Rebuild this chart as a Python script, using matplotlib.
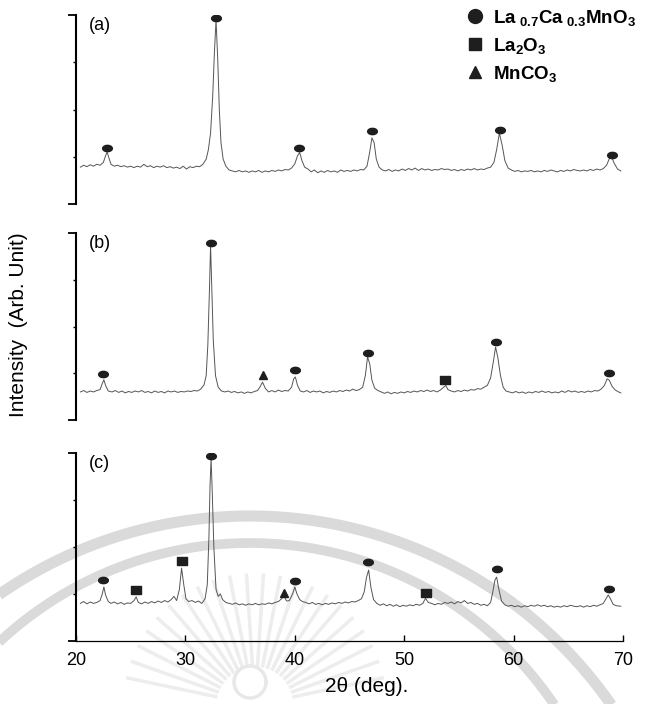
import numpy as np
import matplotlib
matplotlib.use("Agg")
import matplotlib.pyplot as plt
from matplotlib.path import Path
from matplotlib.lines import Line2D

plt.rcParams['font.family'] = ['Liberation Sans', 'DejaVu Sans']
plt.rcParams['mathtext.default'] = 'regular'

# XRD traces: (2theta, intensity in arbitrary units)
trace_a = [
    (20.4, .78), (20.7, .82), (21.0, .79), (21.3, .83), (21.6, .80), (21.9, .84), (22.2, .82), (22.5, .88), (22.7, 1.02), (22.85, 1.10),
    (23.0, .98), (23.2, .84), (23.5, .80), (23.8, .82), (24.1, .79), (24.4, .81), (24.7, .78), (25.0, .80), (25.3, .77), (25.6, .80),
    (25.9, .78), (26.2, .84), (26.5, .79), (26.8, .81), (27.1, .77), (27.4, .80), (27.7, .78), (28.0, .81), (28.3, .77), (28.6, .79),
    (28.9, .76), (29.2, .78), (29.5, .75), (29.8, .80), (30.1, .74), (30.4, .79), (30.7, .77), (31.0, .80), (31.3, .79), (31.6, .84),
    (31.9, .95), (32.1, 1.15), (32.3, 1.50), (32.5, 2.30), (32.65, 3.20), (32.8, 3.89), (32.95, 3.10), (33.1, 2.00), (33.25, 1.30), (33.45, .95),
    (33.7, .80), (34.0, .72), (34.3, .70), (34.6, .68), (34.9, .71), (35.2, .68), (35.5, .70), (35.8, .67), (36.1, .70), (36.4, .68),
    (36.7, .71), (37.0, .67), (37.3, .70), (37.6, .68), (37.9, .71), (38.2, .69), (38.5, .72), (38.8, .70), (39.1, .73), (39.4, .72),
    (39.7, .76), (40.0, .85), (40.25, 1.02), (40.45, 1.09), (40.65, .92), (40.9, .78), (41.2, .74), (41.5, .68), (41.8, .72), (42.1, .66),
    (42.4, .70), (42.7, .67), (43.0, .71), (43.3, .68), (43.6, .70), (43.9, .67), (44.2, .72), (44.5, .69), (44.8, .71), (45.1, .69),
    (45.4, .72), (45.7, .70), (46.0, .73), (46.3, .72), (46.6, .80), (46.85, 1.10), (47.05, 1.40), (47.25, 1.30), (47.45, .95), (47.7, .78),
    (48.0, .72), (48.3, .70), (48.6, .73), (48.9, .69), (49.2, .72), (49.5, .70), (49.8, .74), (50.1, .71), (50.4, .75), (50.7, .72),
    (51.0, .76), (51.3, .71), (51.6, .75), (51.9, .72), (52.2, .74), (52.5, .71), (52.8, .73), (53.1, .72), (53.4, .75), (53.7, .73),
    (54.0, .74), (54.3, .71), (54.6, .73), (54.9, .70), (55.2, .73), (55.5, .71), (55.8, .74), (56.1, .72), (56.4, .75), (56.7, .72),
    (57.0, .74), (57.3, .73), (57.6, .76), (57.9, .78), (58.2, .88), (58.45, 1.15), (58.7, 1.50), (58.95, 1.25), (59.2, .92), (59.5, .76),
    (59.8, .72), (60.1, .69), (60.4, .71), (60.7, .68), (61.0, .70), (61.3, .69), (61.6, .71), (61.9, .68), (62.2, .70), (62.5, .68),
    (62.8, .71), (63.1, .69), (63.4, .72), (63.7, .70), (64.0, .68), (64.3, .71), (64.6, .69), (64.9, .72), (65.2, .70), (65.5, .73),
    (65.8, .71), (66.1, .70), (66.4, .72), (66.7, .70), (67.0, .73), (67.3, .71), (67.6, .74), (67.9, .72), (68.2, .75), (68.5, .82),
    (68.75, .96), (68.95, 1.00), (69.2, .86), (69.5, .74), (69.8, .70),
]
trace_b = [
    (20.4, .60), (20.7, .63), (21.0, .59), (21.3, .62), (21.6, .60), (21.9, .63), (22.2, .65), (22.4, .78), (22.55, .86), (22.7, .74),
    (22.95, .62), (23.3, .60), (23.6, .63), (23.9, .59), (24.2, .62), (24.5, .58), (24.8, .61), (25.1, .59), (25.4, .62), (25.7, .60),
    (26.0, .63), (26.3, .59), (26.6, .61), (26.9, .58), (27.2, .62), (27.5, .59), (27.8, .61), (28.1, .58), (28.4, .62), (28.7, .60),
    (29.0, .62), (29.3, .59), (29.6, .61), (29.9, .60), (30.2, .62), (30.5, .61), (30.8, .63), (31.1, .62), (31.4, .66), (31.7, .75),
    (31.9, .95), (32.05, 1.60), (32.2, 2.80), (32.3, 3.74), (32.4, 2.90), (32.55, 1.70), (32.75, .95), (33.0, .70), (33.3, .62), (33.6, .60),
    (33.9, .62), (34.2, .59), (34.5, .61), (34.8, .58), (35.1, .60), (35.4, .57), (35.7, .60), (36.0, .58), (36.3, .61), (36.6, .63),
    (36.85, .72), (37.05, .81), (37.3, .68), (37.6, .60), (37.9, .63), (38.2, .60), (38.5, .64), (38.8, .61), (39.1, .63), (39.4, .62),
    (39.7, .70), (39.9, .88), (40.05, .92), (40.25, .74), (40.5, .62), (40.8, .60), (41.1, .63), (41.4, .59), (41.7, .62), (42.0, .60),
    (42.3, .62), (42.6, .58), (42.9, .61), (43.2, .59), (43.5, .62), (43.8, .60), (44.1, .63), (44.4, .61), (44.7, .64), (45.0, .62),
    (45.3, .66), (45.6, .63), (45.9, .65), (46.2, .70), (46.45, .95), (46.65, 1.35), (46.85, 1.20), (47.05, .85), (47.3, .68), (47.6, .63),
    (47.9, .60), (48.2, .57), (48.5, .60), (48.8, .56), (49.1, .59), (49.4, .57), (49.7, .60), (50.0, .58), (50.3, .61), (50.6, .59),
    (50.9, .62), (51.2, .60), (51.5, .63), (51.8, .61), (52.1, .64), (52.4, .61), (52.7, .63), (53.0, .60), (53.3, .64), (53.6, .70),
    (53.8, .74), (54.0, .65), (54.3, .62), (54.6, .60), (54.9, .63), (55.2, .61), (55.5, .64), (55.8, .62), (56.1, .65), (56.4, .64),
    (56.7, .67), (57.0, .66), (57.3, .70), (57.6, .74), (57.9, .90), (58.15, 1.25), (58.35, 1.56), (58.55, 1.35), (58.8, .95), (59.05, .70),
    (59.3, .62), (59.6, .60), (59.9, .58), (60.2, .61), (60.5, .58), (60.8, .60), (61.1, .57), (61.4, .60), (61.7, .58), (62.0, .61),
    (62.3, .59), (62.6, .62), (62.9, .59), (63.2, .61), (63.5, .58), (63.8, .60), (64.1, .58), (64.4, .62), (64.7, .59), (65.0, .63),
    (65.3, .60), (65.6, .62), (65.9, .59), (66.2, .61), (66.5, .59), (66.8, .62), (67.1, .60), (67.4, .63), (67.7, .62), (68.0, .66),
    (68.3, .74), (68.55, .88), (68.75, .85), (69.0, .72), (69.3, .64), (69.6, .60), (69.8, .58),
]
trace_c = [
    (20.4, .80), (20.7, .84), (21.0, .79), (21.3, .83), (21.6, .80), (21.9, .82), (22.2, .86), (22.4, 1.00), (22.55, 1.15), (22.7, .98),
    (22.95, .84), (23.2, .80), (23.5, .83), (23.8, .79), (24.1, .82), (24.4, .78), (24.7, .81), (25.0, .80), (25.3, .86), (25.5, .94),
    (25.7, .82), (26.0, .79), (26.3, .83), (26.6, .80), (26.9, .84), (27.2, .81), (27.5, .85), (27.8, .82), (28.1, .86), (28.4, .83),
    (28.7, .88), (28.95, .95), (29.2, .86), (29.45, 1.10), (29.65, 1.55), (29.85, 1.20), (30.05, .90), (30.3, .84), (30.6, .86), (30.9, .82),
    (31.2, .85), (31.5, .80), (31.8, .90), (32.0, 1.20), (32.15, 2.20), (32.25, 3.30), (32.35, 3.89), (32.45, 3.20), (32.6, 2.00), (32.8, 1.10),
    (33.0, .95), (33.2, 1.00), (33.4, .88), (33.7, .82), (34.0, .80), (34.3, .78), (34.6, .81), (34.9, .77), (35.2, .79), (35.5, .76),
    (35.8, .79), (36.1, .77), (36.4, .80), (36.7, .77), (37.0, .79), (37.3, .78), (37.6, .81), (37.9, .79), (38.2, .82), (38.5, .84),
    (38.8, .90), (39.0, .96), (39.25, .85), (39.5, .86), (39.8, 1.00), (40.0, 1.15), (40.2, 1.00), (40.45, .88), (40.7, .84), (41.0, .82),
    (41.3, .79), (41.6, .82), (41.9, .78), (42.2, .80), (42.5, .77), (42.8, .80), (43.1, .78), (43.4, .81), (43.7, .79), (44.0, .82),
    (44.3, .80), (44.6, .83), (44.9, .81), (45.2, .84), (45.5, .83), (45.8, .86), (46.1, .90), (46.35, 1.05), (46.55, 1.35), (46.75, 1.51),
    (46.95, 1.15), (47.2, .88), (47.5, .80), (47.8, .76), (48.1, .79), (48.4, .75), (48.7, .78), (49.0, .74), (49.3, .77), (49.6, .73),
    (49.9, .76), (50.2, .74), (50.5, .77), (50.8, .75), (51.1, .78), (51.4, .76), (51.7, .80), (51.95, .91), (52.2, .82), (52.5, .80),
    (52.8, .77), (53.1, .80), (53.4, .78), (53.7, .82), (54.0, .80), (54.3, .83), (54.6, .79), (54.9, .84), (55.2, .81), (55.5, .86),
    (55.8, .80), (56.1, .82), (56.4, .78), (56.7, .80), (57.0, .76), (57.3, .78), (57.6, .75), (57.9, .82), (58.1, 1.05), (58.3, 1.30),
    (58.45, 1.36), (58.65, 1.10), (58.9, .85), (59.2, .77), (59.5, .74), (59.8, .76), (60.1, .73), (60.4, .75), (60.7, .72), (61.0, .75),
    (61.3, .73), (61.6, .76), (61.9, .74), (62.2, .77), (62.5, .74), (62.8, .76), (63.1, .73), (63.4, .75), (63.7, .72), (64.0, .74),
    (64.3, .72), (64.6, .75), (64.9, .73), (65.2, .76), (65.5, .74), (65.8, .73), (66.1, .75), (66.4, .72), (66.7, .75), (67.0, .73),
    (67.3, .76), (67.6, .74), (67.9, .77), (68.2, .80), (68.45, .90), (68.65, .98), (68.85, .90), (69.1, .78), (69.4, .75), (69.8, .74),
]

# phase markers (2theta, height of marker)
lcmo_a = [(22.8, 1.19), (32.8, 3.94), (40.4, 1.19), (47.1, 1.55), (58.8, 1.57), (69.0, 1.04)]
lcmo_b = [(22.5, 0.98), (32.3, 3.79), (40.0, 1.07), (46.7, 1.43), (58.4, 1.67), (68.7, 1.01)]
la2o3_b = [(53.7, 0.86)]
mnco3_b = [(37.1, 0.96)]
lcmo_c = [(22.5, 1.30), (32.3, 3.94), (40.0, 1.28), (46.7, 1.68), (58.5, 1.53), (68.7, 1.11)]
la2o3_c = [(25.5, 1.09), (29.7, 1.70), (52.0, 1.02)]
mnco3_c = [(39.0, 1.02)]

panel_labels = ['(a)', '(b)', '(c)']
x_ticks = [20, 30, 40, 50, 60, 70]
legend_labels = [r'La$_{\ 0.7}$Ca$_{\ 0.3}$MnO$_3$', r'La$_2$O$_3$', r'MnCO$_3$']

# marker shapes: flattened dot and wide box as in the scan
t = np.linspace(0, 2 * np.pi, 41)
oval = Path(np.column_stack([np.cos(t), 0.65 * np.sin(t)]))
box = Path([(-1, -0.75), (1, -0.75), (1, 0.75), (-1, 0.75), (-1, -0.75)])
mk_col = '#1e1e1e'

fig = plt.figure(figsize=(6.48, 7.04), dpi=100)

# faint watermark of the scanned page
bg = fig.add_axes([0, 0, 1, 1], zorder=-5)
bg.set_xlim(0, 648)
bg.set_ylim(704, 0)
bg.axis('off')
th = np.linspace(0, np.pi, 400)
bg.plot(250 + 440 * np.cos(th), 956 - 440 * np.sin(th), color='#dadada', lw=8, solid_capstyle='butt')
bg.plot(250 + 367 * np.cos(th), 910 - 367 * np.sin(th), color='#dadada', lw=7, solid_capstyle='butt')
for ang in np.linspace(np.radians(12), np.radians(168), 22):
    bg.plot([255 + 40 * np.cos(ang), 255 + 130 * np.cos(ang)],
            [705 - 40 * np.sin(ang), 705 - 130 * np.sin(ang)], color='#ededed', lw=2.5)
bg.plot(250 + 16 * np.cos(2 * th), 682 - 16 * np.sin(2 * th), color='#e8e8e8', lw=2.5)

rects = [[76 / 648, 1 - 204 / 704, 547 / 648, 189 / 704],
         [76 / 648, 1 - 420 / 704, 547 / 648, 187 / 704],
         [76 / 648, 1 - 641 / 704, 547 / 648, 188 / 704]]
traces = [trace_a, trace_b, trace_c]
lcmo = [lcmo_a, lcmo_b, lcmo_c]
la2o3 = [[], la2o3_b, la2o3_c]
mnco3 = [[], mnco3_b, mnco3_c]

axes = []
for i in range(3):
    ax = fig.add_axes(rects[i])
    ax.patch.set_visible(False)
    x, y = np.array(traces[i]).T
    ax.plot(x, y, color='#555555', lw=0.7)
    if lcmo[i]:
        mx, my = np.array(lcmo[i]).T
        ax.plot(mx, my, ls='', marker=oval, ms=7, color=mk_col)
    if la2o3[i]:
        mx, my = np.array(la2o3[i]).T
        ax.plot(mx, my, ls='', marker=box, ms=7, color=mk_col)
    if mnco3[i]:
        mx, my = np.array(mnco3[i]).T
        ax.plot(mx, my, ls='', marker='^', ms=6, color=mk_col)
    ax.set_xlim(20, 70)
    ax.set_ylim(0, 4)
    for s in ['top', 'right']:
        ax.spines[s].set_visible(False)
    ax.spines['left'].set_linewidth(1.5)
    ax.set_yticks([0, 4])
    ax.set_yticks([1, 2, 3], minor=True)
    ax.set_yticklabels([])
    ax.tick_params(axis='y', which='major', direction='out', length=6, width=1.3)
    ax.tick_params(axis='y', which='minor', direction='out', length=2.5, width=1)
    ax.text(21.2, 3.78, panel_labels[i], fontsize=13, va='center', ha='left')
    if i < 2:
        ax.spines['bottom'].set_visible(False)
        ax.set_xticks([])
    else:
        ax.spines['bottom'].set_linewidth(0.9)
        ax.set_xticks(x_ticks)
        ax.tick_params(axis='x', direction='in', length=4, width=1, labelsize=13, pad=8)
    axes.append(ax)

handles = [Line2D([], [], ls='', marker='o', ms=10, color=mk_col),
           Line2D([], [], ls='', marker='s', ms=9, color=mk_col),
           Line2D([], [], ls='', marker='^', ms=9, color=mk_col)]
fig.legend(handles, legend_labels, loc='upper left', bbox_to_anchor=(467 / 648, 1 - 8 / 704),
           bbox_transform=fig.transFigure, borderaxespad=0, borderpad=0,
           frameon=False, handlelength=0.8, handletextpad=0.6, labelspacing=0.42,
           prop={'weight': 'bold', 'size': 13.5})

fig.text(0.028, 1 - 325 / 704, 'Intensity  (Arb. Unit)', rotation=90, ha='center', va='center', fontsize=15)
fig.text(367 / 648, 1 - 686 / 704, '2θ (deg).', ha='center', va='center', fontsize=15)

fig.savefig('out.png', dpi=100)
